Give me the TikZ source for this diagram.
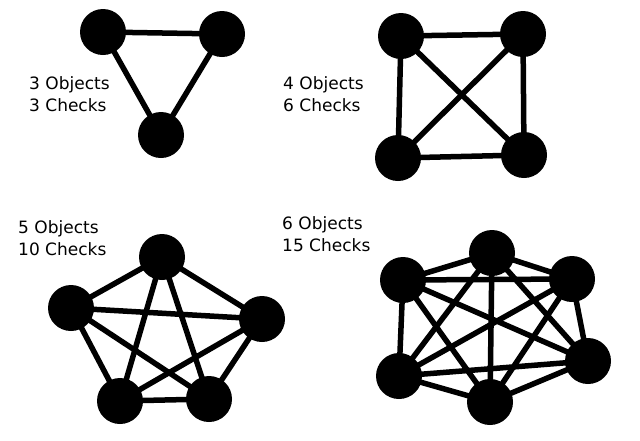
\documentclass[tikz,border=0pt]{standalone}
\usepackage{fontspec}
\setmainfont{DejaVu Sans}
\begin{document}
\begin{tikzpicture}[x=1pt,y=-1pt,
  dot/.style={circle,fill=black,minimum size=46pt,inner sep=0pt},
  edge/.style={line width=5.5pt},
  lbl/.style={anchor=base west,align=left,inner sep=0pt,font=\fontsize{17}{22}\selectfont}]
\useasboundingbox[fill=white] (0,0) rectangle (640,440);
% triangle
\coordinate (t1) at (103,32);
\coordinate (t2) at (222,34);
\coordinate (t3) at (161,135);
\draw[edge] (t1)--(t2)--(t3)--cycle;
\foreach \n in {t1,t2,t3} \node[dot] at (\n) {};
\node[lbl] (l3) at (29,111) {3 Objects\\3 Checks};
% square
\coordinate (s1) at (401,36);
\coordinate (s2) at (523,34);
\coordinate (s3) at (398,158);
\coordinate (s4) at (524,155);
\foreach \a/\b in {s1/s2,s1/s3,s1/s4,s2/s3,s2/s4,s3/s4} \draw[edge] (\a)--(\b);
\foreach \n in {s1,s2,s3,s4} \node[dot] at (\n) {};
\node[lbl] (l4) at (283,111) {4 Objects\\6 Checks};
% pentagon
\coordinate (p1) at (162,257);
\coordinate (p2) at (71,308);
\coordinate (p3) at (262,319);
\coordinate (p4) at (120,401);
\coordinate (p5) at (209,399);
\foreach \a/\b in {p1/p2,p1/p3,p1/p4,p1/p5,p2/p3,p2/p4,p2/p5,p3/p4,p3/p5,p4/p5} \draw[edge] (\a)--(\b);
\foreach \n in {p1,p2,p3,p4,p5} \node[dot] at (\n) {};
\node[lbl] (l5) at (18,255) {5 Objects\\10 Checks};
% hexagon
\coordinate (h1) at (492,253);
\coordinate (h2) at (403,280);
\coordinate (h3) at (572,279);
\coordinate (h4) at (399,376);
\coordinate (h5) at (588,361);
\coordinate (h6) at (490,402);
\foreach \a/\b in {h1/h2,h1/h3,h1/h4,h1/h5,h1/h6,h2/h3,h2/h4,h2/h5,h2/h6,h3/h4,h3/h5,h3/h6,h4/h5,h4/h6,h5/h6} \draw[edge] (\a)--(\b);
\foreach \n in {h1,h2,h3,h4,h5,h6} \node[dot] at (\n) {};
\node[lbl] (l6) at (282,251) {6 Objects\\15 Checks};
\end{tikzpicture}
\end{document}
